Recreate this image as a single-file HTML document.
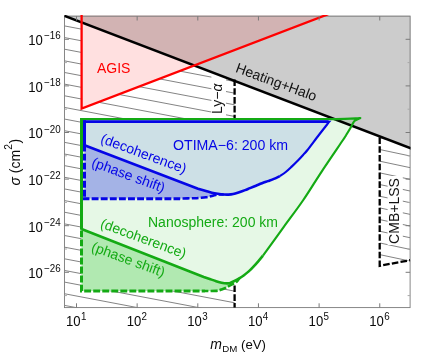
<!DOCTYPE html>
<html><head><meta charset="utf-8"><title>plot</title><style>html,body{margin:0;padding:0;background:#fff}body{width:421px;height:353px;overflow:hidden}</style></head><body>
<svg width="421" height="353" viewBox="0 0 421 353" style="display:block;will-change:transform">
<rect width="421" height="353" fill="#fff"/>
<defs>
<clipPath id="fr"><rect x="64.45" y="15.0" width="346.05" height="293.00000000000006"/></clipPath>
<clipPath id="h1"><polygon points="64.45,16.2 234.6,80.90 234.6,307.6 64.45,307.6"/></clipPath>
<clipPath id="h2"><polygon points="379.7,136.33 410.1,147.94 410.1,260.2 379.7,265.8"/></clipPath>
</defs>
<g clip-path="url(#fr)">
<g clip-path="url(#h1)" stroke="#5a5a5a" stroke-width="0.75" fill="none">
<line x1="64.45" y1="14.25" x2="236.6" y2="46.96"/>
<line x1="64.45" y1="25.90" x2="236.6" y2="58.61"/>
<line x1="64.45" y1="37.55" x2="236.6" y2="70.25"/>
<line x1="64.45" y1="49.19" x2="236.6" y2="81.90"/>
<line x1="64.45" y1="60.84" x2="236.6" y2="93.54"/>
<line x1="64.45" y1="72.48" x2="236.6" y2="105.19"/>
<line x1="64.45" y1="84.12" x2="236.6" y2="116.83"/>
<line x1="64.45" y1="95.77" x2="236.6" y2="128.48"/>
<line x1="64.45" y1="107.41" x2="236.6" y2="140.12"/>
<line x1="64.45" y1="119.06" x2="236.6" y2="151.77"/>
<line x1="64.45" y1="130.70" x2="236.6" y2="163.41"/>
<line x1="64.45" y1="142.35" x2="236.6" y2="175.06"/>
<line x1="64.45" y1="154.00" x2="236.6" y2="186.70"/>
<line x1="64.45" y1="165.64" x2="236.6" y2="198.35"/>
<line x1="64.45" y1="177.28" x2="236.6" y2="209.99"/>
<line x1="64.45" y1="188.93" x2="236.6" y2="221.64"/>
<line x1="64.45" y1="200.57" x2="236.6" y2="233.28"/>
<line x1="64.45" y1="212.22" x2="236.6" y2="244.93"/>
<line x1="64.45" y1="223.87" x2="236.6" y2="256.57"/>
<line x1="64.45" y1="235.51" x2="236.6" y2="268.22"/>
<line x1="64.45" y1="247.16" x2="236.6" y2="279.86"/>
<line x1="64.45" y1="258.80" x2="236.6" y2="291.51"/>
<line x1="64.45" y1="270.44" x2="236.6" y2="303.15"/>
<line x1="64.45" y1="282.09" x2="236.6" y2="314.80"/>
<line x1="64.45" y1="293.73" x2="236.6" y2="326.44"/>
<line x1="64.45" y1="305.38" x2="236.6" y2="338.09"/>
<line x1="64.45" y1="317.02" x2="236.6" y2="349.73"/>
</g>
<g clip-path="url(#h2)" stroke="#5a5a5a" stroke-width="0.75" fill="none">
<line x1="379.7" y1="126.14" x2="412.1" y2="133.04"/>
<line x1="379.7" y1="137.82" x2="412.1" y2="144.72"/>
<line x1="379.7" y1="149.50" x2="412.1" y2="156.40"/>
<line x1="379.7" y1="161.18" x2="412.1" y2="168.08"/>
<line x1="379.7" y1="172.86" x2="412.1" y2="179.76"/>
<line x1="379.7" y1="184.54" x2="412.1" y2="191.44"/>
<line x1="379.7" y1="196.22" x2="412.1" y2="203.12"/>
<line x1="379.7" y1="207.90" x2="412.1" y2="214.80"/>
<line x1="379.7" y1="219.58" x2="412.1" y2="226.48"/>
<line x1="379.7" y1="231.26" x2="412.1" y2="238.16"/>
<line x1="379.7" y1="242.94" x2="412.1" y2="249.84"/>
<line x1="379.7" y1="254.62" x2="412.1" y2="261.52"/>
<line x1="379.7" y1="266.30" x2="412.1" y2="273.20"/>
</g>
<rect x="211.4" y="70" width="14.6" height="46" fill="#fff"/>
<rect x="387.6" y="176" width="15.2" height="69" fill="#fff"/>
<polygon points="81.6,16.2 81.6,108.5 323.0,16.2" fill="#fff"/>
<path d="M81.5,119.1 L81.5,291 L205,291 L205.00,291.00 C206.77,290.98 212.83,291.14 215.60,290.90 C218.37,290.66 219.62,290.22 221.60,289.55 C223.58,288.88 225.77,287.76 227.50,286.90 C229.23,286.04 230.43,285.30 232.00,284.40 C233.57,283.50 235.69,282.52 236.90,281.50 C238.11,280.48 238.86,278.83 239.25,278.30 L239.25,278.30 C240.04,277.78 242.42,276.35 244.00,275.20 C245.58,274.05 247.17,272.83 248.75,271.40 C250.33,269.97 251.92,268.28 253.50,266.60 C255.08,264.92 256.67,263.13 258.25,261.30 C259.83,259.47 262.21,256.55 263.00,255.60 L263.00,255.60 C266.47,250.81 277.08,236.12 283.80,226.85 C290.52,217.58 297.02,209.18 303.30,200.00 C309.58,190.82 314.88,181.80 321.50,171.80 C328.12,161.80 338.88,146.13 343.00,140.00 C347.12,133.87 345.03,136.87 346.20,135.00 C347.37,133.13 348.88,130.73 350.00,128.80 C351.12,126.87 352.07,124.77 352.90,123.40 C353.72,122.03 353.71,121.50 354.95,120.60 C356.19,119.70 359.45,118.43 360.35,118.00 L360.35,118.00 C359.59,118.07 358.36,118.25 355.80,118.40 C353.24,118.55 348.47,118.78 345.00,118.90 C341.53,119.02 336.67,119.07 335.00,119.10 Z" fill="#fff"/>
<polygon points="64.45,15.90 411.1,148.32 411.1,15.4 64.45,15.4" fill="#cccccc"/>
<polygon points="81.6,15.4 81.6,108.5 325.1,15.4" fill="rgb(255,0,0)" fill-opacity="0.12"/>
<path d="M81.5,119.1 L81.5,291 L205,291 L205.00,291.00 C206.77,290.98 212.83,291.14 215.60,290.90 C218.37,290.66 219.62,290.22 221.60,289.55 C223.58,288.88 225.77,287.76 227.50,286.90 C229.23,286.04 230.43,285.30 232.00,284.40 C233.57,283.50 235.69,282.52 236.90,281.50 C238.11,280.48 238.86,278.83 239.25,278.30 L239.25,278.30 C240.04,277.78 242.42,276.35 244.00,275.20 C245.58,274.05 247.17,272.83 248.75,271.40 C250.33,269.97 251.92,268.28 253.50,266.60 C255.08,264.92 256.67,263.13 258.25,261.30 C259.83,259.47 262.21,256.55 263.00,255.60 L263.00,255.60 C266.47,250.81 277.08,236.12 283.80,226.85 C290.52,217.58 297.02,209.18 303.30,200.00 C309.58,190.82 314.88,181.80 321.50,171.80 C328.12,161.80 338.88,146.13 343.00,140.00 C347.12,133.87 345.03,136.87 346.20,135.00 C347.37,133.13 348.88,130.73 350.00,128.80 C351.12,126.87 352.07,124.77 352.90,123.40 C353.72,122.03 353.71,121.50 354.95,120.60 C356.19,119.70 359.45,118.43 360.35,118.00 L360.35,118.00 C359.59,118.07 358.36,118.25 355.80,118.40 C353.24,118.55 348.47,118.78 345.00,118.90 C341.53,119.02 336.67,119.07 335.00,119.10 Z" fill="rgb(10,190,10)" fill-opacity="0.10"/>
<path d="M81.5,229.07 L81.5,291 L205,291 L205.00,291.00 C206.77,290.98 212.83,291.14 215.60,290.90 C218.37,290.66 219.62,290.22 221.60,289.55 C223.58,288.88 225.77,287.76 227.50,286.90 C229.23,286.04 230.43,285.30 232.00,284.40 C233.57,283.50 235.69,282.52 236.90,281.50 C238.11,280.48 238.86,278.83 239.25,278.30 L239.25,278.30 C238.46,278.73 236.08,280.10 234.50,280.90 C232.92,281.70 230.92,282.68 229.75,283.10 C228.58,283.52 228.29,283.37 227.50,283.40 C226.71,283.43 225.98,283.40 225.00,283.30 C224.02,283.20 223.17,283.18 221.60,282.80 C220.03,282.42 217.58,281.63 215.60,281.00 C213.62,280.37 211.67,279.67 209.70,279.00 C207.72,278.33 204.74,277.33 203.75,276.99 Z" fill="rgb(10,190,10)" fill-opacity="0.24"/>
<path d="M84.5,121.5 L84.5,198.5 L180,198.5 L180.00,198.50 C182.33,198.45 190.67,198.32 194.00,198.20 C197.33,198.08 198.02,197.97 200.00,197.80 C201.98,197.63 203.92,197.50 205.90,197.20 C207.88,196.90 209.92,196.45 211.90,196.00 C213.88,195.55 215.83,194.75 217.80,194.50 C219.78,194.25 222.76,194.50 223.75,194.50 L223.75,194.50 C224.54,194.52 226.92,194.68 228.50,194.60 C230.08,194.52 231.47,194.40 233.25,194.00 C235.03,193.60 237.22,192.85 239.20,192.20 C241.17,191.55 243.30,190.78 245.10,190.10 C246.90,189.42 248.18,188.83 250.00,188.10 C251.82,187.37 254.00,186.51 256.00,185.70 C258.00,184.89 260.02,184.02 262.00,183.25 C263.98,182.48 265.92,181.82 267.90,181.10 C269.88,180.38 271.92,179.73 273.90,178.90 C275.88,178.07 278.82,176.57 279.80,176.10 L279.80,176.10 C280.79,175.42 283.77,173.58 285.75,172.00 C287.73,170.42 289.62,168.57 291.70,166.60 C293.77,164.63 296.22,162.23 298.20,160.20 C300.18,158.17 302.05,156.10 303.60,154.40 C305.15,152.70 304.95,153.23 307.50,150.00 C310.05,146.77 315.27,139.72 318.90,135.00 C322.53,130.28 327.57,123.92 329.30,121.70 Z" fill="rgb(0,25,240)" fill-opacity="0.105"/>
<path d="M84.5,145.30 L84.5,198.5 L180,198.5 L180.00,198.50 C182.33,198.45 190.67,198.32 194.00,198.20 C197.33,198.08 198.02,197.97 200.00,197.80 C201.98,197.63 203.92,197.50 205.90,197.20 C207.88,196.90 209.92,196.45 211.90,196.00 C213.88,195.55 215.83,194.75 217.80,194.50 C219.78,194.25 222.76,194.50 223.75,194.50 L223.75,194.50 C222.76,194.38 219.78,194.10 217.80,193.80 C215.83,193.50 213.88,193.17 211.90,192.70 C209.92,192.23 208.22,191.67 205.90,191.00 C203.58,190.33 199.32,189.05 198.00,188.66 Z" fill="rgb(0,0,230)" fill-opacity="0.2"/>
</g>
<rect x="64.45" y="16.2" width="345.65000000000003" height="291.40000000000003" fill="none" stroke="#7a7a7a" stroke-width="0.9"/>
<g clip-path="url(#fr)">
<line x1="59.45" y1="13.99" x2="415.1" y2="149.85" stroke="#000" stroke-width="2.6"/>
<line x1="234.6" y1="79.46" x2="234.6" y2="119.1" stroke="#000" stroke-width="2.3" stroke-dasharray="6.6 2.2" fill="none"/>
<line x1="234.6" y1="285.5" x2="234.6" y2="307.6" stroke="#000" stroke-width="2.3" stroke-dasharray="6.6 2.2" fill="none"/>
<polyline points="379.7,137.33 379.7,265.8 410.1,260.2" stroke="#000" stroke-width="2.3" stroke-dasharray="6.6 2.2" fill="none"/>
<polyline points="81.6,14.2 81.6,108.5 328.25,14.2" fill="none" stroke="#ff0000" stroke-width="2.3" stroke-linejoin="miter"/>
<path d="M81.5,229.07 L203.75,276.99 L203.75,276.99 C204.74,277.33 207.72,278.33 209.70,279.00 C211.67,279.67 213.62,280.37 215.60,281.00 C217.58,281.63 220.03,282.42 221.60,282.80 C223.17,283.18 224.02,283.20 225.00,283.30 C225.98,283.40 226.71,283.43 227.50,283.40 C228.29,283.37 228.58,283.52 229.75,283.10 C230.92,282.68 232.92,281.70 234.50,280.90 C236.08,280.10 237.67,279.25 239.25,278.30 C240.83,277.35 242.42,276.35 244.00,275.20 C245.58,274.05 247.17,272.83 248.75,271.40 C250.33,269.97 251.92,268.28 253.50,266.60 C255.08,264.92 256.67,263.13 258.25,261.30 C259.83,259.47 262.21,256.55 263.00,255.60" fill="none" stroke="#14aa14" stroke-width="2.6"/>
<path d="M263.00,255.60 C266.47,250.81 277.08,236.12 283.80,226.85 C290.52,217.58 297.02,209.18 303.30,200.00 C309.58,190.82 314.88,181.80 321.50,171.80 C328.12,161.80 338.88,146.13 343.00,140.00 C347.12,133.87 345.03,136.87 346.20,135.00 C347.37,133.13 348.88,130.73 350.00,128.80 C351.12,126.87 352.07,124.77 352.90,123.40 C353.72,122.03 353.71,121.50 354.95,120.60 C356.19,119.70 359.45,118.43 360.35,118.00 L360.35,118.00 C359.59,118.07 358.36,118.25 355.80,118.40 C353.24,118.55 348.47,118.78 345.00,118.90 C341.53,119.02 336.67,119.07 335.00,119.10" fill="none" stroke="#14aa14" stroke-width="2.15" stroke-linejoin="round"/>
<line x1="336" y1="119.12" x2="80" y2="119.15" stroke="#14aa14" stroke-width="2.4"/>
<line x1="81.5" y1="117.95" x2="81.5" y2="229.87" stroke="#14aa14" stroke-width="3"/>
<polyline points="81.5,230.4 81.5,291 205,291" fill="none" stroke="#14aa14" stroke-width="3" stroke-dasharray="6.9 2.14"/>
<path d="M205.00,291.00 C206.77,290.98 212.83,291.14 215.60,290.90 C218.37,290.66 219.62,290.22 221.60,289.55 C223.58,288.88 225.77,287.76 227.50,286.90 C229.23,286.04 230.43,285.30 232.00,284.40 C233.57,283.50 235.69,282.52 236.90,281.50 C238.11,280.48 238.86,278.83 239.25,278.30" fill="none" stroke="#14aa14" stroke-width="2.6" stroke-dasharray="6.9 2.14" stroke-dashoffset="3.46"/>
<path d="M84.5,145.30 L198,188.66 L198.00,188.66 C199.32,189.05 203.58,190.33 205.90,191.00 C208.22,191.67 209.92,192.23 211.90,192.70 C213.88,193.17 215.83,193.50 217.80,193.80 C219.78,194.10 221.97,194.37 223.75,194.50 C225.53,194.63 226.92,194.68 228.50,194.60 C230.08,194.52 231.47,194.40 233.25,194.00 C235.03,193.60 237.22,192.85 239.20,192.20 C241.17,191.55 243.30,190.78 245.10,190.10 C246.90,189.42 248.18,188.83 250.00,188.10 C251.82,187.37 254.00,186.51 256.00,185.70 C258.00,184.89 260.02,184.02 262.00,183.25 C263.98,182.48 265.92,181.82 267.90,181.10 C269.88,180.38 271.92,179.73 273.90,178.90 C275.88,178.07 278.82,176.57 279.80,176.10" fill="none" stroke="#0505e6" stroke-width="2.6"/>
<path d="M279.80,176.10 C280.79,175.42 283.77,173.58 285.75,172.00 C287.73,170.42 289.62,168.57 291.70,166.60 C293.77,164.63 296.22,162.23 298.20,160.20 C300.18,158.17 302.05,156.10 303.60,154.40 C305.15,152.70 304.95,153.23 307.50,150.00 C310.05,146.77 315.27,139.72 318.90,135.00 C322.53,130.28 327.57,123.92 329.30,121.70 L300,121.7" fill="none" stroke="#0505e6" stroke-width="2.15" stroke-linejoin="miter" stroke-miterlimit="10"/>
<line x1="84.5" y1="146.10" x2="84.5" y2="120.35" stroke="#0505e6" stroke-width="3"/>
<line x1="83" y1="121.62" x2="328.6" y2="121.62" stroke="#0505e6" stroke-width="2.55"/>
<line x1="84.5" y1="144.6" x2="84.5" y2="200" stroke="#0505e6" stroke-width="3" stroke-dasharray="6.9 2.14"/>
<line x1="83" y1="198.7" x2="180" y2="198.7" stroke="#0505e6" stroke-width="3" stroke-dasharray="6.9 2.2" stroke-dashoffset="0.47"/>
<path d="M180.00,198.50 C182.33,198.45 190.67,198.32 194.00,198.20 C197.33,198.08 198.02,197.97 200.00,197.80 C201.98,197.63 203.92,197.50 205.90,197.20 C207.88,196.90 209.92,196.45 211.90,196.00 C213.88,195.55 215.83,194.75 217.80,194.50 C219.78,194.25 222.76,194.50 223.75,194.50" fill="none" stroke="#0505e6" stroke-width="2.6" stroke-dasharray="6.9 2.2" stroke-dashoffset="6.53"/>
</g>
<line x1="76.5" y1="307.6" x2="76.5" y2="303.3" stroke="#7a7a7a" stroke-width="1"/>
<line x1="76.5" y1="16.2" x2="76.5" y2="20.5" stroke="#7a7a7a" stroke-width="1"/>
<line x1="137.15" y1="307.6" x2="137.15" y2="303.3" stroke="#7a7a7a" stroke-width="1"/>
<line x1="137.15" y1="16.2" x2="137.15" y2="20.5" stroke="#7a7a7a" stroke-width="1"/>
<line x1="197.8" y1="307.6" x2="197.8" y2="303.3" stroke="#7a7a7a" stroke-width="1"/>
<line x1="197.8" y1="16.2" x2="197.8" y2="20.5" stroke="#7a7a7a" stroke-width="1"/>
<line x1="258.45" y1="307.6" x2="258.45" y2="303.3" stroke="#7a7a7a" stroke-width="1"/>
<line x1="258.45" y1="16.2" x2="258.45" y2="20.5" stroke="#7a7a7a" stroke-width="1"/>
<line x1="319.1" y1="307.6" x2="319.1" y2="303.3" stroke="#7a7a7a" stroke-width="1"/>
<line x1="319.1" y1="16.2" x2="319.1" y2="20.5" stroke="#7a7a7a" stroke-width="1"/>
<line x1="379.75" y1="307.6" x2="379.75" y2="303.3" stroke="#7a7a7a" stroke-width="1"/>
<line x1="379.75" y1="16.2" x2="379.75" y2="20.5" stroke="#7a7a7a" stroke-width="1"/>
<line x1="64.45" y1="295.60" x2="66.95" y2="295.60" stroke="#a8a8a8" stroke-width="1"/>
<line x1="410.1" y1="295.60" x2="407.6" y2="295.60" stroke="#a8a8a8" stroke-width="1"/>
<line x1="64.45" y1="272.30" x2="68.95" y2="272.30" stroke="#7a7a7a" stroke-width="1"/>
<line x1="410.1" y1="272.30" x2="405.6" y2="272.30" stroke="#7a7a7a" stroke-width="1"/>
<line x1="64.45" y1="249.00" x2="66.95" y2="249.00" stroke="#a8a8a8" stroke-width="1"/>
<line x1="410.1" y1="249.00" x2="407.6" y2="249.00" stroke="#a8a8a8" stroke-width="1"/>
<line x1="64.45" y1="225.70" x2="68.95" y2="225.70" stroke="#7a7a7a" stroke-width="1"/>
<line x1="410.1" y1="225.70" x2="405.6" y2="225.70" stroke="#7a7a7a" stroke-width="1"/>
<line x1="64.45" y1="202.40" x2="66.95" y2="202.40" stroke="#a8a8a8" stroke-width="1"/>
<line x1="410.1" y1="202.40" x2="407.6" y2="202.40" stroke="#a8a8a8" stroke-width="1"/>
<line x1="64.45" y1="179.10" x2="68.95" y2="179.10" stroke="#7a7a7a" stroke-width="1"/>
<line x1="410.1" y1="179.10" x2="405.6" y2="179.10" stroke="#7a7a7a" stroke-width="1"/>
<line x1="64.45" y1="155.80" x2="66.95" y2="155.80" stroke="#a8a8a8" stroke-width="1"/>
<line x1="410.1" y1="155.80" x2="407.6" y2="155.80" stroke="#a8a8a8" stroke-width="1"/>
<line x1="64.45" y1="132.50" x2="68.95" y2="132.50" stroke="#7a7a7a" stroke-width="1"/>
<line x1="410.1" y1="132.50" x2="405.6" y2="132.50" stroke="#7a7a7a" stroke-width="1"/>
<line x1="64.45" y1="109.20" x2="66.95" y2="109.20" stroke="#a8a8a8" stroke-width="1"/>
<line x1="410.1" y1="109.20" x2="407.6" y2="109.20" stroke="#a8a8a8" stroke-width="1"/>
<line x1="64.45" y1="85.90" x2="68.95" y2="85.90" stroke="#7a7a7a" stroke-width="1"/>
<line x1="410.1" y1="85.90" x2="405.6" y2="85.90" stroke="#7a7a7a" stroke-width="1"/>
<line x1="64.45" y1="62.60" x2="66.95" y2="62.60" stroke="#a8a8a8" stroke-width="1"/>
<line x1="410.1" y1="62.60" x2="407.6" y2="62.60" stroke="#a8a8a8" stroke-width="1"/>
<line x1="64.45" y1="39.30" x2="68.95" y2="39.30" stroke="#7a7a7a" stroke-width="1"/>
<line x1="410.1" y1="39.30" x2="405.6" y2="39.30" stroke="#7a7a7a" stroke-width="1"/>
<text x="66.00" y="325.8" font-family="Liberation Sans, sans-serif" font-size="14" textLength="14.6" lengthAdjust="spacingAndGlyphs" fill="#0a0a0a">10</text>
<text x="80.90" y="319.6" font-family="Liberation Sans, sans-serif" font-size="10.3" textLength="5.45" lengthAdjust="spacingAndGlyphs" fill="#0a0a0a">1</text>
<text x="126.65" y="325.8" font-family="Liberation Sans, sans-serif" font-size="14" textLength="14.6" lengthAdjust="spacingAndGlyphs" fill="#0a0a0a">10</text>
<text x="141.55" y="319.6" font-family="Liberation Sans, sans-serif" font-size="10.3" textLength="5.45" lengthAdjust="spacingAndGlyphs" fill="#0a0a0a">2</text>
<text x="187.30" y="325.8" font-family="Liberation Sans, sans-serif" font-size="14" textLength="14.6" lengthAdjust="spacingAndGlyphs" fill="#0a0a0a">10</text>
<text x="202.20" y="319.6" font-family="Liberation Sans, sans-serif" font-size="10.3" textLength="5.45" lengthAdjust="spacingAndGlyphs" fill="#0a0a0a">3</text>
<text x="247.95" y="325.8" font-family="Liberation Sans, sans-serif" font-size="14" textLength="14.6" lengthAdjust="spacingAndGlyphs" fill="#0a0a0a">10</text>
<text x="262.85" y="319.6" font-family="Liberation Sans, sans-serif" font-size="10.3" textLength="5.45" lengthAdjust="spacingAndGlyphs" fill="#0a0a0a">4</text>
<text x="308.60" y="325.8" font-family="Liberation Sans, sans-serif" font-size="14" textLength="14.6" lengthAdjust="spacingAndGlyphs" fill="#0a0a0a">10</text>
<text x="323.50" y="319.6" font-family="Liberation Sans, sans-serif" font-size="10.3" textLength="5.45" lengthAdjust="spacingAndGlyphs" fill="#0a0a0a">5</text>
<text x="369.25" y="325.8" font-family="Liberation Sans, sans-serif" font-size="14" textLength="14.6" lengthAdjust="spacingAndGlyphs" fill="#0a0a0a">10</text>
<text x="384.15" y="319.6" font-family="Liberation Sans, sans-serif" font-size="10.3" textLength="5.45" lengthAdjust="spacingAndGlyphs" fill="#0a0a0a">6</text>
<text x="28.3" y="278.10" font-family="Liberation Sans, sans-serif" font-size="14" textLength="14.6" lengthAdjust="spacingAndGlyphs" fill="#0a0a0a">10</text>
<text x="43.75" y="272.40" font-family="Liberation Sans, sans-serif" font-size="10.3" textLength="5.7" lengthAdjust="spacingAndGlyphs" fill="#0a0a0a">−</text>
<text x="49.8" y="272.40" font-family="Liberation Sans, sans-serif" font-size="10.3" textLength="10.9" lengthAdjust="spacingAndGlyphs" fill="#0a0a0a">26</text>
<text x="28.3" y="231.50" font-family="Liberation Sans, sans-serif" font-size="14" textLength="14.6" lengthAdjust="spacingAndGlyphs" fill="#0a0a0a">10</text>
<text x="43.75" y="225.80" font-family="Liberation Sans, sans-serif" font-size="10.3" textLength="5.7" lengthAdjust="spacingAndGlyphs" fill="#0a0a0a">−</text>
<text x="49.8" y="225.80" font-family="Liberation Sans, sans-serif" font-size="10.3" textLength="10.9" lengthAdjust="spacingAndGlyphs" fill="#0a0a0a">24</text>
<text x="28.3" y="184.90" font-family="Liberation Sans, sans-serif" font-size="14" textLength="14.6" lengthAdjust="spacingAndGlyphs" fill="#0a0a0a">10</text>
<text x="43.75" y="179.20" font-family="Liberation Sans, sans-serif" font-size="10.3" textLength="5.7" lengthAdjust="spacingAndGlyphs" fill="#0a0a0a">−</text>
<text x="49.8" y="179.20" font-family="Liberation Sans, sans-serif" font-size="10.3" textLength="10.9" lengthAdjust="spacingAndGlyphs" fill="#0a0a0a">22</text>
<text x="28.3" y="138.30" font-family="Liberation Sans, sans-serif" font-size="14" textLength="14.6" lengthAdjust="spacingAndGlyphs" fill="#0a0a0a">10</text>
<text x="43.75" y="132.60" font-family="Liberation Sans, sans-serif" font-size="10.3" textLength="5.7" lengthAdjust="spacingAndGlyphs" fill="#0a0a0a">−</text>
<text x="49.8" y="132.60" font-family="Liberation Sans, sans-serif" font-size="10.3" textLength="10.9" lengthAdjust="spacingAndGlyphs" fill="#0a0a0a">20</text>
<text x="28.3" y="91.70" font-family="Liberation Sans, sans-serif" font-size="14" textLength="14.6" lengthAdjust="spacingAndGlyphs" fill="#0a0a0a">10</text>
<text x="43.75" y="86.00" font-family="Liberation Sans, sans-serif" font-size="10.3" textLength="5.7" lengthAdjust="spacingAndGlyphs" fill="#0a0a0a">−</text>
<text x="49.8" y="86.00" font-family="Liberation Sans, sans-serif" font-size="10.3" textLength="10.9" lengthAdjust="spacingAndGlyphs" fill="#0a0a0a">18</text>
<text x="28.3" y="45.10" font-family="Liberation Sans, sans-serif" font-size="14" textLength="14.6" lengthAdjust="spacingAndGlyphs" fill="#0a0a0a">10</text>
<text x="43.75" y="39.40" font-family="Liberation Sans, sans-serif" font-size="10.3" textLength="5.7" lengthAdjust="spacingAndGlyphs" fill="#0a0a0a">−</text>
<text x="49.8" y="39.40" font-family="Liberation Sans, sans-serif" font-size="10.3" textLength="10.9" lengthAdjust="spacingAndGlyphs" fill="#0a0a0a">16</text>
<text x="210.2" y="348.9" font-family="Liberation Sans, sans-serif" font-size="14" fill="#0a0a0a"><tspan font-style="italic">m</tspan><tspan font-size="9.7" dy="2.6" dx="0.4">DM</tspan></text>
<text x="241" y="348.9" font-family="Liberation Sans, sans-serif" font-size="13.2" fill="#0a0a0a">(eV)</text>
<text transform="translate(20,185.6) rotate(-90)" font-family="Liberation Sans, sans-serif" font-size="14" fill="#0a0a0a"><tspan font-style="italic">σ</tspan> (cm<tspan font-size="10.3" dy="-8.3" dx="0.3">2</tspan><tspan dy="8.3" dx="0.5">)</tspan></text>
<text x="97" y="72.7" font-family="Liberation Sans, sans-serif" font-size="14" fill="#ff0000">AGIS</text>
<text x="173" y="150" font-family="Liberation Sans, sans-serif" font-size="14.15" fill="#0505e6">OTIMA−6: 200 km</text>
<text x="148" y="227.1" font-family="Liberation Sans, sans-serif" font-size="14" fill="#14aa14">Nanosphere: 200 km</text>
<text transform="translate(143.5,154) rotate(20.2)" font-family="Liberation Sans, sans-serif" font-size="14" fill="#0505e6" text-anchor="middle" dy="4.2">(decoherence)</text>
<text transform="translate(128.3,175.4) rotate(20.2)" font-family="Liberation Sans, sans-serif" font-size="14" fill="#0505e6" text-anchor="middle" dy="4.2">(phase shift)</text>
<text transform="translate(143.3,238.9) rotate(20.2)" font-family="Liberation Sans, sans-serif" font-size="14" fill="#14aa14" text-anchor="middle" dy="4.2">(decoherence)</text>
<text transform="translate(128.2,259.9) rotate(20.2)" font-family="Liberation Sans, sans-serif" font-size="14" fill="#14aa14" text-anchor="middle" dy="4.2">(phase shift)</text>
<text transform="translate(276.1,82.6) rotate(20.2)" font-family="Liberation Sans, sans-serif" font-size="14" fill="#111" text-anchor="middle" dy="4.2">Heating+Halo</text>
<text transform="translate(222,98.7) rotate(-90)" font-family="Liberation Sans, sans-serif" font-size="14" fill="#111" text-anchor="middle">Ly−<tspan font-style="italic">α</tspan></text>
<text transform="translate(399.4,211) rotate(-90)" font-family="Liberation Sans, sans-serif" font-size="14" fill="#111" text-anchor="middle">CMB+LSS</text>
</svg>
</body></html>
